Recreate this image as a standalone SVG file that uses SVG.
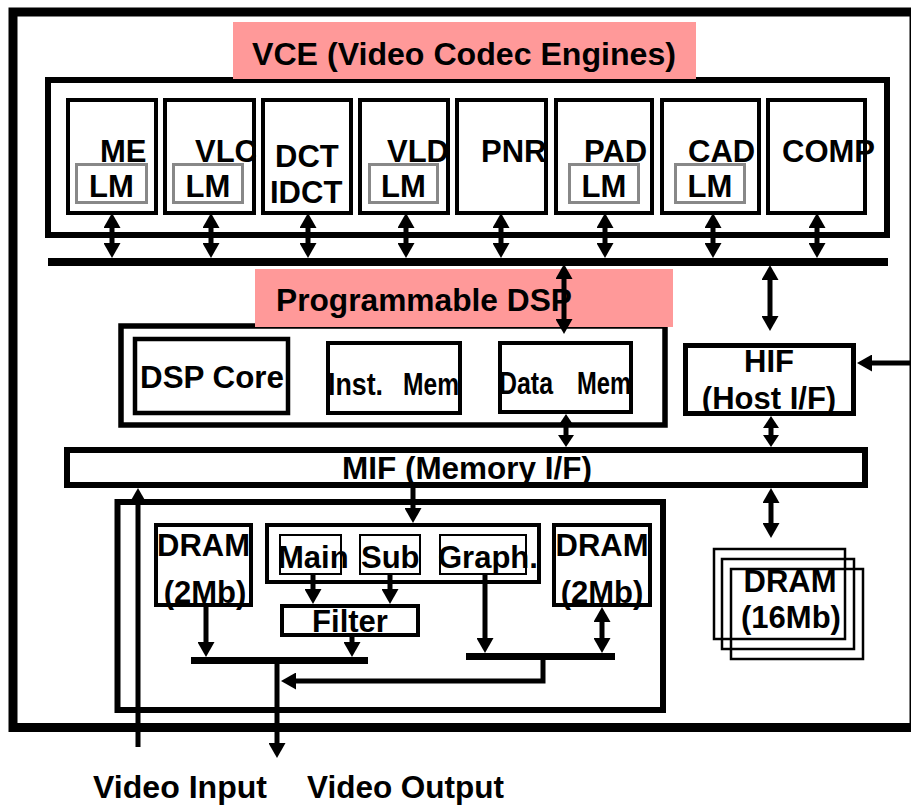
<svg xmlns="http://www.w3.org/2000/svg" width="911" height="805" viewBox="0 0 911 805">
<style>
.t{font-family:"Liberation Sans",Arial,sans-serif;font-weight:bold;font-size:31px;fill:#000}
.m{text-anchor:middle}
.b{fill:none;stroke:#000}
.lm{fill:none;stroke:#888;stroke-width:3}
.pink{fill:#FF9999}
.a{stroke:#000;stroke-width:5;fill:none}
</style>
<defs>
<marker id="ah" viewBox="0 0 15 17" markerWidth="15" markerHeight="17" refX="0" refY="8.5" orient="auto-start-reverse" markerUnits="userSpaceOnUse"><path d="M0,0 L15,8.5 L0,17 z" fill="#000"/></marker>
<marker id="ahs" viewBox="0 0 12 16" markerWidth="12" markerHeight="16" refX="0" refY="8" orient="auto-start-reverse" markerUnits="userSpaceOnUse"><path d="M0,0 L12,8 L0,16 z" fill="#000"/></marker>
</defs>
<rect width="911" height="805" fill="#fff"/>
<g id="chip"><rect class="b" x="13" y="12" width="901" height="715.5" stroke-width="9"/></g>

<g id="vce">
<rect class="b" x="48" y="80" width="839" height="155" stroke-width="6"/>
<rect class="pink" x="233" y="22" width="463" height="57"/>
<text class="t" x="252" y="65" font-size="32" textLength="424" lengthAdjust="spacingAndGlyphs">VCE (Video Codec Engines)</text>
</g>
<g id="me"><rect class="b" x="68" y="100" width="88" height="113" stroke-width="4"/><text class="t" x="100" y="162">ME</text><rect class="lm" x="76.5" y="164.5" width="70" height="38"/><text class="t m" x="111.5" y="197">LM</text></g>
<g id="vlc"><rect class="b" x="165" y="100" width="89" height="113" stroke-width="4"/><text class="t" x="195" y="162">VLC</text><rect class="lm" x="173.5" y="164.5" width="69" height="38"/><text class="t m" x="208" y="197">LM</text></g>
<g id="dct"><rect class="b" x="263" y="100" width="88" height="113" stroke-width="4"/><text class="t" x="275" y="167">DCT</text><text class="t" x="270" y="203">IDCT</text></g>
<g id="vld"><rect class="b" x="360" y="100" width="88" height="113" stroke-width="4"/><text class="t" x="387" y="162">VLD</text><rect class="lm" x="369.5" y="164.5" width="68" height="38"/><text class="t m" x="403.5" y="197">LM</text></g>
<g id="pnr"><rect class="b" x="457" y="100" width="89" height="113" stroke-width="4"/><text class="t" x="481" y="162">PNR</text></g>
<g id="pad"><rect class="b" x="556" y="100" width="96" height="113" stroke-width="4"/><text class="t" x="584" y="162">PAD</text><rect class="lm" x="569.5" y="164.5" width="69" height="38"/><text class="t m" x="604" y="197">LM</text></g>
<g id="cad"><rect class="b" x="662" y="100" width="97" height="113" stroke-width="4"/><text class="t" x="688" y="162">CAD</text><rect class="lm" x="675.5" y="164.5" width="69" height="38"/><text class="t m" x="710" y="197">LM</text></g>
<g id="comp"><rect class="b" x="768" y="100" width="97" height="113" stroke-width="4"/><text class="t" x="782" y="162">COMP</text></g>

<g id="vce-bus"><line x1="48" y1="262" x2="888" y2="262" stroke="#000" stroke-width="8"/></g>

<g id="dsp">
<rect class="b" x="121" y="326" width="544" height="99" stroke-width="5.5"/>
<rect class="pink" x="255" y="269" width="418" height="58"/>
<text class="t" x="276" y="311" font-size="32" textLength="296" lengthAdjust="spacingAndGlyphs">Programmable DSP</text>
</g>
<g id="dsp-core"><rect class="b" x="135" y="339" width="153" height="74" stroke-width="4.5"/><text class="t" x="140" y="388" textLength="144" lengthAdjust="spacingAndGlyphs">DSP Core</text></g>
<g id="inst-mem"><rect class="b" x="328" y="343" width="132" height="70" stroke-width="4"/><text class="t" x="328" y="395" font-size="26" textLength="55" lengthAdjust="spacingAndGlyphs">Inst.</text><text class="t" x="403" y="395" font-size="26" textLength="56" lengthAdjust="spacingAndGlyphs">Mem</text></g>
<g id="data-mem"><rect class="b" x="500" y="343" width="131" height="69" stroke-width="4"/><text class="t" x="499" y="394" font-size="26" textLength="54" lengthAdjust="spacingAndGlyphs">Data</text><text class="t" x="577" y="394" font-size="26" textLength="54" lengthAdjust="spacingAndGlyphs">Mem</text></g>

<g id="hif"><rect class="b" x="685.5" y="345.5" width="168" height="68" stroke-width="5"/><text class="t m" x="769" y="372">HIF</text><text class="t m" x="769" y="409">(Host I/F)</text></g>

<g id="mif"><rect class="b" x="67" y="450" width="798" height="35" stroke-width="6"/><text class="t" x="342" y="479" textLength="250" lengthAdjust="spacingAndGlyphs">MIF (Memory I/F)</text></g>

<g id="display"><rect class="b" x="117.5" y="502" width="545.5" height="208" stroke-width="6"/></g>
<g id="dram-left"><rect class="b" x="156" y="525" width="95" height="80" stroke-width="4"/><text class="t m" x="203.5" y="556">DRAM</text><text class="t m" x="205" y="603">(2Mb)</text></g>
<g id="planes">
<rect class="b" x="267" y="525" width="272" height="57" stroke-width="4"/>
<g id="main"><rect class="b" x="280" y="535" width="61" height="39" stroke-width="2"/><text class="t" x="278" y="568" font-size="29">Main</text></g>
<g id="sub"><rect class="b" x="360" y="535" width="60" height="39" stroke-width="2"/><text class="t" x="361" y="568" font-size="29">Sub</text></g>
<g id="graph"><rect class="b" x="440" y="535" width="86" height="39" stroke-width="2"/><text class="t" x="438" y="568" font-size="29">Graph.</text></g>
</g>
<g id="filter"><rect class="b" x="282" y="606" width="136" height="29" stroke-width="4"/><text class="t m" x="350" y="632" font-size="30">Filter</text></g>
<g id="dram-right"><rect class="b" x="554" y="525" width="96" height="80" stroke-width="4"/><text class="t m" x="602" y="556">DRAM</text><text class="t m" x="602" y="603">(2Mb)</text></g>
<g id="mix-bus-left"><line x1="191" y1="660.5" x2="368" y2="660.5" stroke="#000" stroke-width="7"/></g>
<g id="mix-bus-right"><line x1="466" y1="656.5" x2="615" y2="656.5" stroke="#000" stroke-width="7"/></g>

<g id="dram16">
<rect class="b" x="714" y="549" width="131" height="90" stroke-width="2.5"/>
<rect class="b" x="722" y="559" width="132" height="90" stroke-width="2.5"/>
<rect class="b" x="731" y="569" width="132" height="90" stroke-width="2.5"/>
<text class="t m" x="790" y="592">DRAM</text>
<text class="t m" x="791" y="628">(16Mb)</text>
</g>

<g id="io-labels">
<text class="t" x="93" y="798" textLength="174" lengthAdjust="spacingAndGlyphs">Video Input</text>
<text class="t" x="307" y="798" textLength="197" lengthAdjust="spacingAndGlyphs">Video Output</text>
</g>

<g id="connectors">
<line class="a" x1="112" y1="228" x2="112" y2="243" marker-start="url(#ah)" marker-end="url(#ah)"/>
<line class="a" x1="211" y1="228" x2="211" y2="243" marker-start="url(#ah)" marker-end="url(#ah)"/>
<line class="a" x1="308" y1="228" x2="308" y2="243" marker-start="url(#ah)" marker-end="url(#ah)"/>
<line class="a" x1="406" y1="228" x2="406" y2="243" marker-start="url(#ah)" marker-end="url(#ah)"/>
<line class="a" x1="501" y1="228" x2="501" y2="243" marker-start="url(#ah)" marker-end="url(#ah)"/>
<line class="a" x1="605" y1="228" x2="605" y2="243" marker-start="url(#ah)" marker-end="url(#ah)"/>
<line class="a" x1="713" y1="228" x2="713" y2="243" marker-start="url(#ah)" marker-end="url(#ah)"/>
<line class="a" x1="817" y1="228" x2="817" y2="243" marker-start="url(#ah)" marker-end="url(#ah)"/>
<line class="a" x1="564" y1="279" x2="564" y2="319" marker-start="url(#ah)" marker-end="url(#ah)"/>
<line class="a" x1="770" y1="280" x2="770" y2="316" marker-start="url(#ah)" marker-end="url(#ah)"/>
<line class="a" x1="912" y1="363" x2="872" y2="363" marker-end="url(#ah)"/>
<line class="a" x1="566" y1="426" x2="566" y2="435" marker-start="url(#ahs)" marker-end="url(#ahs)"/>
<line class="a" x1="771" y1="428" x2="771" y2="435" marker-start="url(#ahs)" marker-end="url(#ahs)"/>
<line class="a" x1="771" y1="503" x2="771" y2="523" marker-start="url(#ah)" marker-end="url(#ah)"/>
<line class="a" x1="413" y1="488" x2="413" y2="508" marker-end="url(#ah)"/>
<line class="a" x1="138" y1="747" x2="138" y2="503" marker-end="url(#ah)"/>
<line class="a" x1="313" y1="575" x2="313" y2="589" marker-end="url(#ah)"/>
<line class="a" x1="390" y1="575" x2="390" y2="589" marker-end="url(#ah)"/>
<line class="a" x1="206" y1="607" x2="206" y2="642" marker-end="url(#ah)"/>
<line class="a" x1="352" y1="637" x2="352" y2="642" marker-end="url(#ah)"/>
<line class="a" x1="485" y1="575" x2="485" y2="638" marker-end="url(#ah)"/>
<line class="a" x1="602" y1="622" x2="602" y2="638" marker-start="url(#ah)" marker-end="url(#ah)"/>
<path class="a" d="M543,660 V681 H296" marker-end="url(#ah)"/>
<line class="a" x1="277" y1="664" x2="277" y2="743" marker-end="url(#ah)"/>
</g>
</svg>
